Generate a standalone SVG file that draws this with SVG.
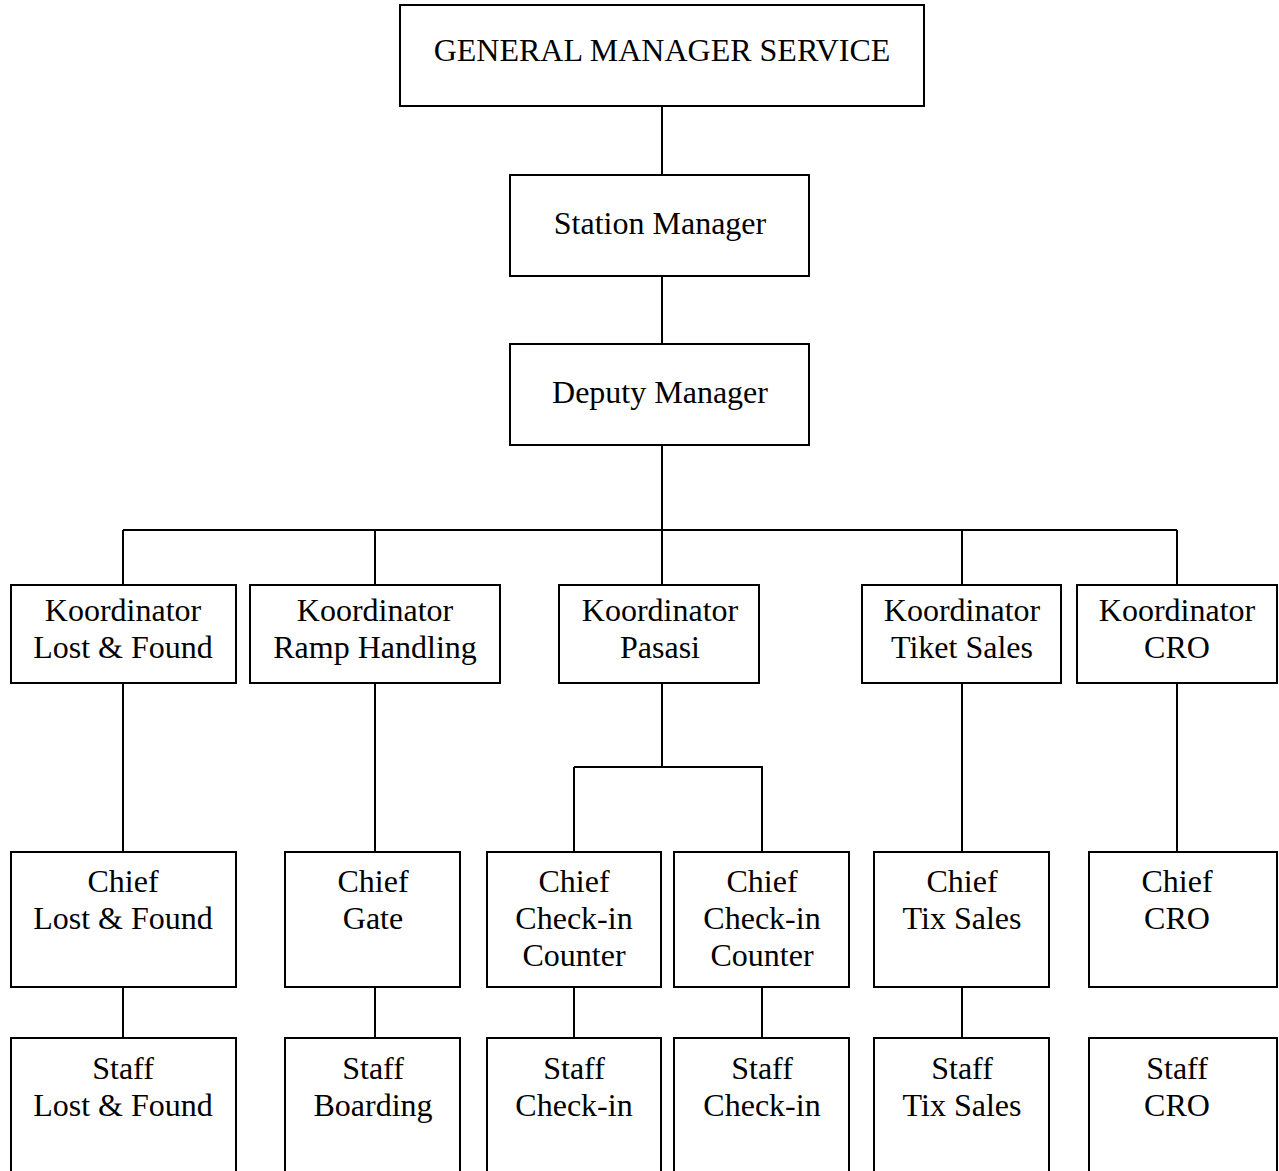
<svg xmlns="http://www.w3.org/2000/svg" width="1279" height="1171" viewBox="0 0 1279 1171">
<style>
.b{fill:#fff;stroke:#000;stroke-width:2}
.t{font-family:"Liberation Serif","Times New Roman",serif;font-size:32px;fill:#000;text-anchor:middle}
.c{fill:none;stroke:#000;stroke-width:2}
</style>
<rect width="1279" height="1171" fill="#fff"/>
<g id="connectors">
<path class="c" d="M662 106V175M662 276V344M662 445V530M123 530H1177M123 530V585M375 530V585M662 530V585M962 530V585M1177 530V585"/>
<path class="c" d="M123 683V852M375 683V852M662 683V767M574 767H763M574 767V852M762 767V852M962 683V852M1177 683V852"/>
<path class="c" d="M123 987V1038M375 987V1038M574 987V1038M762 987V1038M962 987V1038"/>
</g>
<g id="gm"><rect class="b" x="400" y="5" width="524" height="101"/><text class="t" x="662" y="61">GENERAL MANAGER SERVICE</text></g>
<g id="station"><rect class="b" x="510" y="175" width="299" height="101"/><text class="t" x="660" y="234">Station Manager</text></g>
<g id="deputy"><rect class="b" x="510" y="344" width="299" height="101"/><text class="t" x="660" y="403">Deputy Manager</text></g>
<g id="k1"><rect class="b" x="11" y="585" width="225" height="98"/><text class="t" x="123" y="621">Koordinator</text><text class="t" x="123" y="658">Lost &amp; Found</text></g>
<g id="k2"><rect class="b" x="250" y="585" width="250" height="98"/><text class="t" x="375" y="621">Koordinator</text><text class="t" x="375" y="658">Ramp Handling</text></g>
<g id="k3"><rect class="b" x="559" y="585" width="200" height="98"/><text class="t" x="660" y="621">Koordinator</text><text class="t" x="660" y="658">Pasasi</text></g>
<g id="k4"><rect class="b" x="862" y="585" width="199" height="98"/><text class="t" x="962" y="621">Koordinator</text><text class="t" x="962" y="658">Tiket Sales</text></g>
<g id="k5"><rect class="b" x="1077" y="585" width="200" height="98"/><text class="t" x="1177" y="621">Koordinator</text><text class="t" x="1177" y="658">CRO</text></g>
<g id="c1"><rect class="b" x="11" y="852" width="225" height="135"/><text class="t" x="123" y="892">Chief</text><text class="t" x="123" y="929">Lost &amp; Found</text></g>
<g id="c2"><rect class="b" x="285" y="852" width="175" height="135"/><text class="t" x="373" y="892">Chief</text><text class="t" x="373" y="929">Gate</text></g>
<g id="c3"><rect class="b" x="487" y="852" width="174" height="135"/><text class="t" x="574" y="892">Chief</text><text class="t" x="574" y="929">Check-in</text><text class="t" x="574" y="966">Counter</text></g>
<g id="c4"><rect class="b" x="674" y="852" width="175" height="135"/><text class="t" x="762" y="892">Chief</text><text class="t" x="762" y="929">Check-in</text><text class="t" x="762" y="966">Counter</text></g>
<g id="c5"><rect class="b" x="874" y="852" width="175" height="135"/><text class="t" x="962" y="892">Chief</text><text class="t" x="962" y="929">Tix Sales</text></g>
<g id="c6"><rect class="b" x="1089" y="852" width="188" height="135"/><text class="t" x="1177" y="892">Chief</text><text class="t" x="1177" y="929">CRO</text></g>
<g id="s1"><rect class="b" x="11" y="1038" width="225" height="160"/><text class="t" x="123" y="1079">Staff</text><text class="t" x="123" y="1116">Lost &amp; Found</text></g>
<g id="s2"><rect class="b" x="285" y="1038" width="175" height="160"/><text class="t" x="373" y="1079">Staff</text><text class="t" x="373" y="1116">Boarding</text></g>
<g id="s3"><rect class="b" x="487" y="1038" width="174" height="160"/><text class="t" x="574" y="1079">Staff</text><text class="t" x="574" y="1116">Check-in</text></g>
<g id="s4"><rect class="b" x="674" y="1038" width="175" height="160"/><text class="t" x="762" y="1079">Staff</text><text class="t" x="762" y="1116">Check-in</text></g>
<g id="s5"><rect class="b" x="874" y="1038" width="175" height="160"/><text class="t" x="962" y="1079">Staff</text><text class="t" x="962" y="1116">Tix Sales</text></g>
<g id="s6"><rect class="b" x="1089" y="1038" width="188" height="160"/><text class="t" x="1177" y="1079">Staff</text><text class="t" x="1177" y="1116">CRO</text></g>
</svg>
